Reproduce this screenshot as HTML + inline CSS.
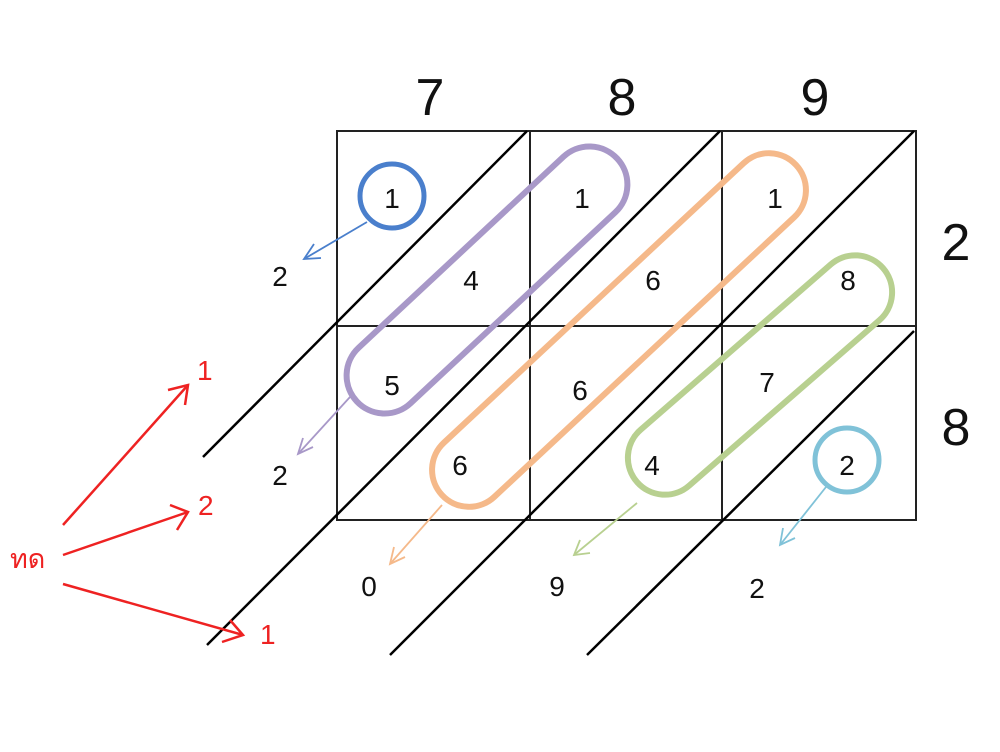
<!DOCTYPE html>
<html><head><meta charset="utf-8"><style>
html,body{margin:0;padding:0;background:#fff;width:1000px;height:752px;overflow:hidden}
svg{display:block}
text{font-family:"Liberation Sans","DejaVu Sans",sans-serif}
</style></head><body>
<svg width="1000" height="752" viewBox="0 0 1000 752" xmlns="http://www.w3.org/2000/svg">
<!-- grid -->
<g stroke="#222" stroke-width="2" fill="none">
<rect x="337" y="131" width="579" height="389"/>
<line x1="530" y1="131" x2="530" y2="520"/>
<line x1="722" y1="131" x2="722" y2="520"/>
<line x1="337" y1="326" x2="916" y2="326"/>
</g>
<g stroke="#000" stroke-width="2.5">
<line x1="527" y1="131" x2="203" y2="457"/>
<line x1="720" y1="131" x2="207" y2="645"/>
<line x1="914" y1="131" x2="390" y2="655"/>
<line x1="914" y1="331" x2="587" y2="655"/>
</g>
<!-- capsules -->
<g fill="none" stroke-width="6">
<rect x="-178" y="-38" width="356" height="76" rx="38" transform="translate(487,280) rotate(-43)" stroke="#a898c8"/>
<rect x="-242" y="-37" width="484" height="74" rx="37" transform="translate(619,330) rotate(-43)" stroke="#f5b98a"/>
<rect x="-163" y="-37" width="326" height="74" rx="37" transform="translate(760,375) rotate(-41)" stroke="#b8d090"/>
</g>
<circle cx="392" cy="196" r="32" fill="none" stroke="#4a7fcc" stroke-width="5"/>
<circle cx="847" cy="460" r="32" fill="none" stroke="#80c2d8" stroke-width="5"/>
<!-- small arrows -->
<g stroke-width="1.8" fill="none">
<g stroke="#4a7fcc"><line x1="367" y1="222" x2="304" y2="259"/><path d="M314,244 L304,259 L321,258"/></g>
<g stroke="#a898c8"><line x1="350" y1="397" x2="298" y2="454"/><path d="M303,438 L298,454 L313,447"/></g>
<g stroke="#f5b98a"><line x1="442" y1="505" x2="390" y2="564"/><path d="M394,547 L390,564 L405,557"/></g>
<g stroke="#b8d090"><line x1="637" y1="503" x2="574" y2="555"/><path d="M580,540 L574,555 L590,553"/></g>
<g stroke="#80c2d8"><line x1="826" y1="487" x2="780" y2="545"/><path d="M783,528 L780,545 L795,538"/></g>
</g>
<!-- red arrows -->
<g stroke="#ee2222" stroke-width="2.5" fill="none">
<line x1="63" y1="525" x2="188" y2="385"/><path d="M168,390 L188,385 L185,405"/>
<line x1="63" y1="555" x2="188" y2="512"/><path d="M170,505 L188,512 L177,530"/>
<line x1="63" y1="584" x2="243" y2="635"/><path d="M230,620 L243,635 L222,642"/>
</g>
<g fill="#ee2222" font-size="28">
<text x="197" y="380">1</text>
<text x="198" y="515">2</text>
<text x="260" y="644">1</text>
<text x="10" y="568" font-size="27">ทด</text>
</g>
<!-- headers -->
<g font-size="52" fill="#111" text-anchor="middle">
<text x="430" y="115">7</text>
<text x="622" y="115">8</text>
<text x="815" y="115">9</text>
<text x="956" y="260">2</text>
<text x="956" y="445">8</text>
</g>
<g font-size="28" fill="#111" text-anchor="middle">
<text x="392" y="208">1</text>
<text x="582" y="208">1</text>
<text x="775" y="208">1</text>
<text x="471" y="290">4</text>
<text x="653" y="290">6</text>
<text x="848" y="290">8</text>
<text x="392" y="395">5</text>
<text x="580" y="400">6</text>
<text x="767" y="392">7</text>
<text x="460" y="475">6</text>
<text x="652" y="475">4</text>
<text x="847" y="475">2</text>
<text x="280" y="286">2</text>
<text x="280" y="485">2</text>
<text x="369" y="596">0</text>
<text x="557" y="596">9</text>
<text x="757" y="598">2</text>
</g>
</svg>
</body></html>
